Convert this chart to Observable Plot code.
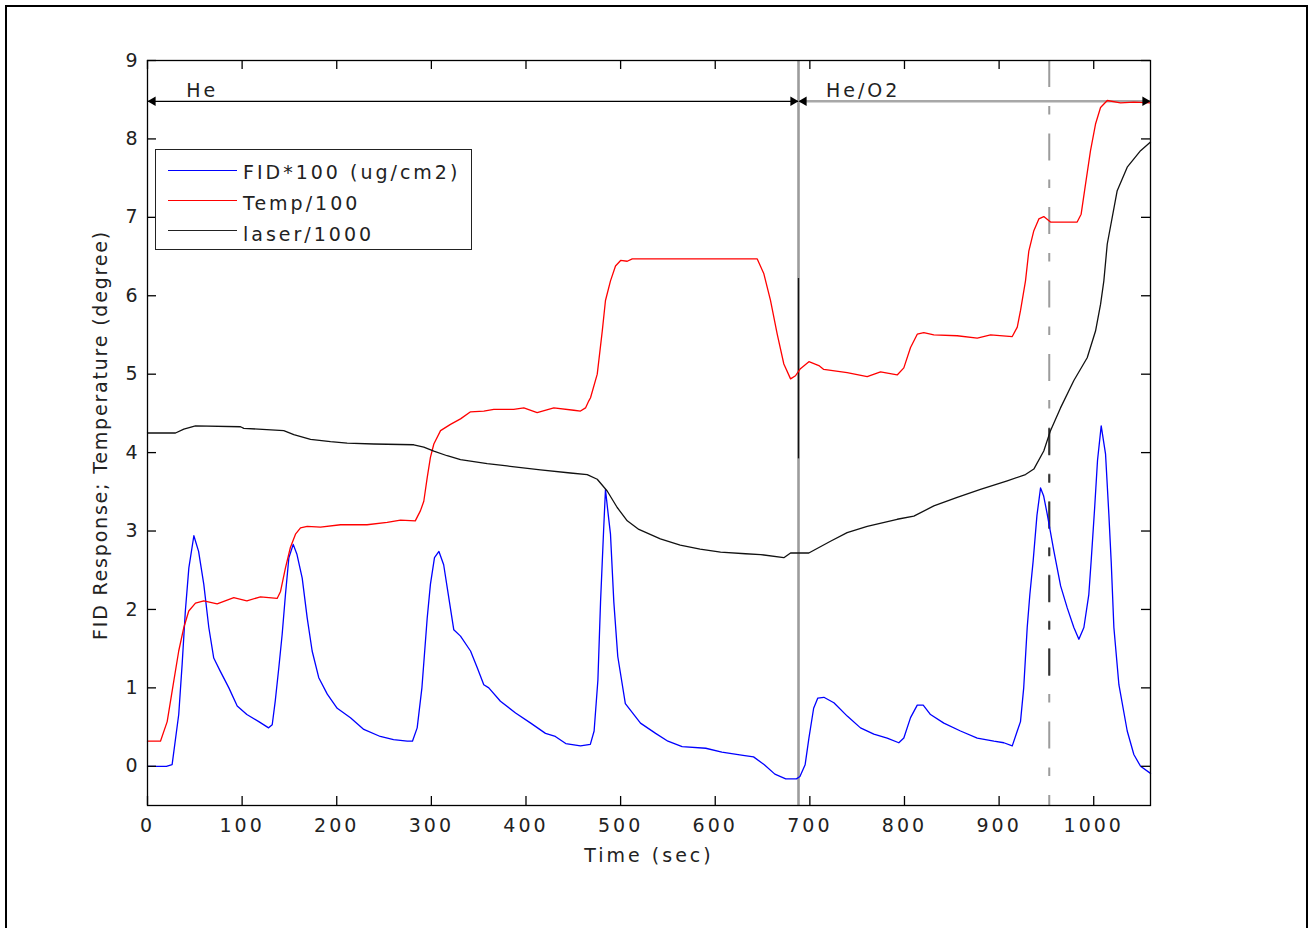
<!DOCTYPE html>
<html><head><meta charset="utf-8">
<script src="https://cdn.jsdelivr.net/npm/d3@7"></script>
<script src="https://cdn.jsdelivr.net/npm/@observablehq/plot@0.6"></script>
<style>
html,body{margin:0;padding:0;background:#fff;}
#wrap{position:relative;width:1310px;height:928px;overflow:hidden;font-family:"DejaVu Sans",sans-serif;}
#chart{position:absolute;left:0;top:0;}
#outer{position:absolute;left:5px;top:5px;width:1303px;height:960px;border:2.5px solid #000;box-sizing:border-box;}
#legend{position:absolute;left:155px;top:149px;width:317px;height:101px;border:1.5px solid #222;box-sizing:border-box;background:#fff;}
.sw{position:absolute;left:12px;width:69px;height:0;border-top:1.5px solid;}
.lb{position:absolute;left:87px;font-size:19px;letter-spacing:3px;color:#222;white-space:nowrap;line-height:22px;}
</style></head>
<body><div id="wrap"><div id="chart"></div><div id="outer"></div><div id="legend"></div></div>
<script>
// ---- data (time in sec, value in plot units) ----
const fidPoints = [[0,0],[10,0],[20,0],[26,0.02],[33,0.66],[36.6,1.30],[40,1.98],[43.7,2.53],[49,2.94],[54,2.74],[59.5,2.32],[64.8,1.77],[70,1.38],[77,1.21],[86,1.0],[94.8,0.77],[105,0.66],[117.6,0.57],[128,0.49],[131.8,0.53],[135,0.83],[138.8,1.26],[142.3,1.68],[145.8,2.19],[149.4,2.66],[154,2.83],[158,2.70],[163.5,2.40],[168.8,1.89],[174,1.47],[181,1.13],[190,0.92],[200.5,0.74],[214.5,0.62],[228.6,0.47],[246,0.38],[260,0.34],[274.5,0.32],[280,0.32],[285,0.49],[290,1.0],[295.6,1.89],[299,2.32],[303.3,2.66],[308,2.74],[313,2.57],[318.4,2.15],[323.7,1.74],[330.8,1.66],[341.4,1.47],[348.4,1.26],[355.4,1.04],[360.7,1.0],[373,0.83],[389,0.68],[405,0.55],[420.6,0.42],[431,0.38],[442,0.29],[457.6,0.26],[468,0.28],[472,0.45],[476,1.1],[478.8,2.1],[482,3.0],[484,3.53],[487,3.2],[489.3,2.96],[492.8,2.1],[497,1.4],[505,0.8],[521,0.55],[537,0.42],[550,0.32],[565,0.25],[590,0.23],[607,0.18],[629.4,0.14],[640.5,0.12],[651.9,0.02],[663,-0.1],[674.5,-0.16],[685.8,-0.16],[689.5,-0.13],[695,0.02],[699,0.36],[704,0.74],[708.4,0.87],[714.8,0.88],[725.4,0.81],[739.5,0.64],[753.5,0.49],[767.6,0.41],[781.7,0.36],[794,0.30],[799.3,0.36],[806.4,0.62],[813.5,0.78],[819.8,0.78],[827.5,0.66],[841.6,0.55],[859.2,0.45],[876.9,0.36],[894.5,0.32],[905,0.30],[913.9,0.26],[919.2,0.45],[922.6,0.57],[926,1.0],[929.7,1.77],[932.5,2.19],[936,2.62],[940,3.2],[943.8,3.55],[947,3.45],[950.8,3.22],[957.8,2.75],[965,2.3],[972,2.02],[979,1.77],[984.3,1.62],[989.6,1.77],[994.8,2.19],[997.3,2.62],[1001,3.3],[1004,3.9],[1007.9,4.34],[1012.5,3.98],[1016,3.21],[1018.5,2.6],[1021.3,1.77],[1026.6,1.04],[1035.4,0.45],[1042.4,0.15],[1049.5,0.0],[1060,-0.09]];

const tempPoints = [[0,0.32],[13.7,0.32],[20.8,0.57],[27.8,1.09],[33,1.47],[38.4,1.77],[43.6,1.98],[50.7,2.08],[59.5,2.11],[73.6,2.07],[91.2,2.15],[105,2.11],[119.4,2.16],[137,2.14],[140.6,2.23],[145.8,2.53],[151,2.79],[156.4,2.96],[161.7,3.04],[168.8,3.06],[182.8,3.05],[204,3.08],[232,3.08],[253.3,3.11],[267.4,3.14],[283,3.13],[288.5,3.26],[292,3.38],[295.6,3.68],[299,3.94],[302.6,4.11],[309.7,4.28],[320.2,4.36],[330.8,4.43],[341.4,4.52],[355.4,4.53],[366,4.55],[387,4.55],[397.7,4.57],[411.8,4.51],[429.4,4.57],[450.5,4.54],[457.6,4.53],[462.9,4.57],[466.4,4.66],[468.2,4.70],[475.3,5.0],[480.6,5.55],[484,5.94],[489.3,6.19],[494.6,6.38],[500,6.45],[507,6.44],[512.3,6.47],[644.4,6.47],[651.4,6.28],[658.4,5.94],[665.5,5.51],[672.5,5.13],[679.6,4.94],[684.8,4.98],[690,5.07],[699,5.16],[709.5,5.11],[714.7,5.06],[739.4,5.02],[760.6,4.97],[774.7,5.03],[792.3,4.99],[799.3,5.08],[806.4,5.34],[813.5,5.51],[820.4,5.53],[831,5.50],[855.7,5.49],[876.9,5.46],[891,5.50],[913.9,5.48],[919.2,5.60],[922.6,5.81],[927.9,6.19],[931.4,6.57],[936.7,6.83],[942,6.98],[947.2,7.01],[954.3,6.94],[982.5,6.94],[986.7,7.04],[991.3,7.42],[996.6,7.85],[1001.9,8.19],[1007.2,8.40],[1014.3,8.49],[1028.3,8.46],[1042.4,8.47],[1060,8.46]];

const laserPoints = [[0,4.25],[29.6,4.25],[38.4,4.30],[50.7,4.34],[98.3,4.33],[101.8,4.31],[144,4.28],[154.6,4.23],[172.3,4.17],[193.4,4.14],[211,4.12],[239.2,4.11],[281.4,4.10],[292,4.07],[302.6,4.02],[316.7,3.96],[330.8,3.91],[359,3.86],[380,3.83],[415.3,3.78],[447,3.74],[464.7,3.72],[475.3,3.66],[485.8,3.51],[496.4,3.30],[507,3.13],[519.3,3.02],[542,2.90],[563,2.82],[584,2.77],[605.6,2.73],[632,2.71],[648,2.70],[672.5,2.66],[679.6,2.72],[698.9,2.72],[721.8,2.87],[739.4,2.98],[760.6,3.06],[792.3,3.15],[809.9,3.19],[831,3.32],[855.7,3.43],[880.3,3.53],[908.6,3.64],[927.9,3.72],[936.7,3.79],[947.2,4.02],[954.3,4.28],[964.9,4.57],[979,4.92],[993.1,5.21],[1001.9,5.55],[1007.2,5.89],[1010.7,6.19],[1014.3,6.66],[1024.8,7.34],[1035.4,7.64],[1049.5,7.85],[1060,7.96]];

const seriesNames = ["FID*100 (ug/cm2)", "Temp/100", "laser/1000"];
const seriesColors = ["#0000ff", "#ff0000", "#111111"];
const xTicks = [0,100,200,300,400,500,600,700,800,900,1000];
const yTicks = [0,1,2,3,4,5,6,7,8,9];
const xTitle = "Time (sec)";
const yTitle = "FID Response; Temperature (degree)";
const phaseNames = ["He", "He/O2"];
const phaseStart = [0, 688];
const phaseEnd = [688, 1060];
const phaseLabelAt = [41, 717];
const phaseLevel = 8.48;
const switchTime = 688;
const switchDark = [6.22, 3.92];
const markTime = 953;
const markDark = [4.35, 1.1];

const toRows = pts => pts.map(([t, v]) => ({t, v}));
const series = [fidPoints, tempPoints, laserPoints].map(toRows);
const W = 1310, H = 928, mL = 147, mR = 160, mT = 60, mB = 123;
const pw = W - mL - mR, ph = H - mT - mB, tk = 9;
const dash = "27,19,8.5,19";
const arrowHeads = [
  {t: phaseStart[0], dir: -1, k: 0}, {t: phaseEnd[0], dir: 1, k: 0},
  {t: phaseStart[1], dir: -1, k: 1}, {t: phaseEnd[1], dir: 1, k: 1}
];

const chart = Plot.plot({
  width: W, height: H,
  marginLeft: mL, marginRight: mR, marginTop: mT, marginBottom: mB,
  x: {domain: [0, 1060]},
  y: {domain: [-0.5, 9]},
  style: {fontFamily: "'DejaVu Sans', sans-serif", fontSize: "19px", letterSpacing: "3px", color: "#222", background: "transparent"},
  marks: [
    Plot.ruleX([switchTime], {stroke: "#9c9c9c", strokeWidth: 2.6}),
    Plot.ruleX([switchTime], {y1: switchDark[0], y2: switchDark[1], stroke: "#111", strokeWidth: 1.3}),
    Plot.ruleX([markTime], {stroke: "#9c9c9c", strokeWidth: 2, strokeDasharray: dash}),
    Plot.ruleX([markTime], {y1: markDark[0], y2: markDark[1], stroke: "#333", strokeWidth: 2, strokeDasharray: dash, strokeDashoffset: 364}),
    Plot.ruleY([phaseLevel], {x1: phaseStart[0], x2: phaseEnd[0], stroke: "#000", strokeWidth: 1.3}),
    Plot.ruleY([phaseLevel], {x1: phaseStart[1], x2: phaseEnd[1], stroke: "#a8a8a8", strokeWidth: 2.6}),
    Plot.text(phaseNames, {x: (d, i) => phaseLabelAt[i], y: phaseLevel, text: d => d, textAnchor: "start", dy: -10, fill: "#222"}),
    Plot.line(series[0], {x: "t", y: "v", stroke: seriesColors[0], strokeWidth: 1.3}),
    Plot.line(series[1], {x: "t", y: "v", stroke: seriesColors[1], strokeWidth: 1.3}),
    Plot.line(series[2], {x: "t", y: "v", stroke: seriesColors[2], strokeWidth: 1.3}),
    Plot.dot(arrowHeads.filter(d => d.dir < 0), {x: "t", y: phaseLevel, symbol: "triangle", r: 3.5, rotate: -90, dx: 5.4, fill: "#000", stroke: "none"}),
    Plot.dot(arrowHeads.filter(d => d.dir > 0), {x: "t", y: phaseLevel, symbol: "triangle", r: 3.5, rotate: 90, dx: -5.4, fill: "#000", stroke: "none"}),
    Plot.frame({stroke: "#000", strokeWidth: 1.3}),
    Plot.tickX(xTicks, {x: d => d, insetTop: ph - tk, stroke: "#000", strokeWidth: 1.3}),
    Plot.tickX(xTicks, {x: d => d, insetBottom: ph - tk, stroke: "#000", strokeWidth: 1.3}),
    Plot.tickY(yTicks, {y: d => d, insetRight: pw - tk, stroke: "#000", strokeWidth: 1.3}),
    Plot.tickY(yTicks, {y: d => d, insetLeft: pw - tk, stroke: "#000", strokeWidth: 1.3}),
    Plot.axisX(xTicks, {tickSize: 0, tickPadding: 13, label: null, tickFormat: d => String(d), fill: "#222"}),
    Plot.axisY(yTicks, {tickSize: 0, tickPadding: 7, label: null, tickFormat: d => String(d), fill: "#222"}),
    Plot.text([xTitle], {frameAnchor: "bottom", dy: 50, lineAnchor: "middle", textAnchor: "middle", text: d => d, fill: "#222"}),
    Plot.text([yTitle], {frameAnchor: "left", dx: -47, dy: 2, rotate: -90, lineAnchor: "middle", textAnchor: "middle", text: d => d, fill: "#222"})
  ]
});
document.getElementById("chart").appendChild(chart);
d3.select(chart).selectAll("text").filter(function () { return this.textContent === yTitle; }).style("letter-spacing", "1.8px");

const legend = document.getElementById("legend");
seriesNames.forEach((name, i) => {
  const sw = document.createElement("div");
  sw.className = "sw";
  sw.style.top = (20 + i * 30) + "px";
  sw.style.borderTopColor = seriesColors[i] === "#111111" ? "#222" : seriesColors[i];
  legend.appendChild(sw);
  const lb = document.createElement("div");
  lb.className = "lb";
  lb.style.top = (11 + i * 31) + "px";
  lb.textContent = name;
  legend.appendChild(lb);
});
</script></body></html>
